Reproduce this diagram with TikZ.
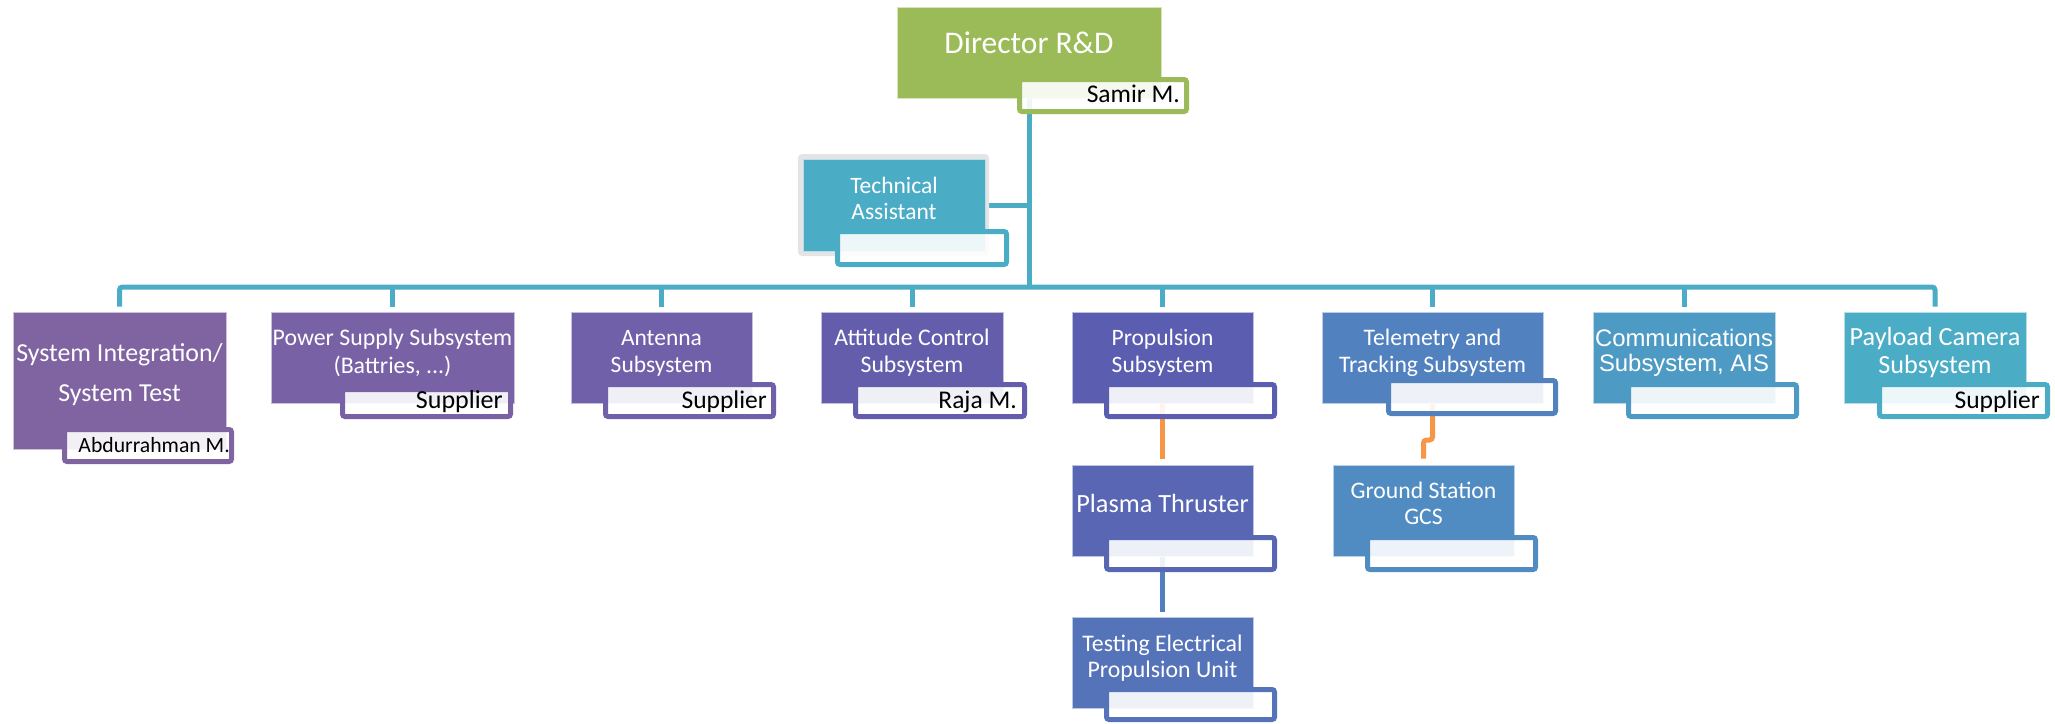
\documentclass[tikz,border=0pt]{standalone}
\usepackage{fontspec}
\setmainfont{Carlito}
\newfontfamily\arialfont{Liberation Sans}
\usetikzlibrary{fit,backgrounds}

\definecolor{cDir}{HTML}{9BBB59}
\definecolor{cTA}{HTML}{4BACC6}
\definecolor{cTAglow}{HTML}{E4E4E4}
\definecolor{cSys}{HTML}{8064A2}
\definecolor{cPow}{HTML}{7961A6}
\definecolor{cAnt}{HTML}{6F60A9}
\definecolor{cAtt}{HTML}{645DAC}
\definecolor{cPro}{HTML}{5B5EB0}
\definecolor{cTel}{HTML}{5281BF}
\definecolor{cCom}{HTML}{4D9AC4}
\definecolor{cPay}{HTML}{4BACC6}
\definecolor{cPla}{HTML}{5866B3}
\definecolor{cGnd}{HTML}{508CC1}
\definecolor{cTst}{HTML}{5573B9}
\definecolor{cBus}{HTML}{4BACC6}
\definecolor{cOrg}{HTML}{F79646}
\definecolor{cSub}{HTML}{5280BF}

% font size helper
\newcommand\setfs[2]{\fontsize{#1}{#2}\selectfont}
% unit box given by its outer corners
\newcommand\orgunit[6]{\node[unit=#6, fit={(#2,#3) (#4,#5)}] (#1) {};}
% name tag given by its outer corners (outline of 5pt drawn inside)
\newcommand\orgtag[6]{\node[tag=#6, fit={({#2+2.5},{#3+2.5}) ({#4-2.5},{#5-2.5})}] (#1) {};}

\begin{document}
\begin{tikzpicture}[x=1pt, y=-1pt,
  unit/.style={fill=#1, draw=white!60!#1, line width=0.8pt, inner sep=0pt},
  tag/.style={fill=white, fill opacity=0.9, draw=#1, line width=5pt, rounded corners=2.5pt, inner sep=0pt},
  glow/.style={fill=#1, rounded corners=4pt, inner sep=0pt},
  link/.style={draw=#1, line width=5pt},
  utext/.style={text=white, align=center, inner sep=0pt, font=#1},
  ttext/.style={text=black, anchor=base east, inner sep=0pt, font=#1}]

\useasboundingbox (0,0) rectangle (2055,723);

% ---------- unit boxes ----------
\orgunit{dir}{897}{7}{1161}{98}{cDir}
\node[glow=cTAglow, fit={(798,154) (989,256)}] (taGlow) {};
\orgunit{ta}{803}{159}{985}{251}{cTA}

\orgunit{sysI}{13}{312}{226}{449}{cSys}
\orgunit{pow}{271}{312}{514}{403}{cPow}
\orgunit{ant}{571}{312}{752}{403}{cAnt}
\orgunit{att}{821}{312}{1003}{403}{cAtt}
\orgunit{prop}{1072}{312}{1253}{403}{cPro}
\orgunit{tel}{1322}{312}{1543}{403}{cTel}
\orgunit{com}{1593}{312}{1775}{403}{cCom}
\orgunit{pay}{1844}{312}{2026}{403}{cPay}

\orgunit{pla}{1072}{465}{1253}{556}{cPla}
\orgunit{gnd}{1333}{465}{1514}{556}{cGnd}
\orgunit{tst}{1072}{617}{1253}{708}{cTst}

% ---------- connectors (behind the boxes) ----------
\coordinate (busY) at (0,287);
\coordinate (jogY) at (0,440);
\begin{scope}[on background layer]
  \draw[link=cBus] (dir.south) -- (dir.south |- busY);
  \draw[link=cBus] (ta.east) -- (ta.east -| dir.south);
  \draw[link=cBus, rounded corners=3pt, shorten <=5pt, shorten >=5pt]
    (sysI.north) -- (sysI.north |- busY) -- (pay.north |- busY) -- (pay.north);
  \foreach \n in {pow,ant,att,prop,tel,com}
    \draw[link=cBus, shorten >=5pt] (\n.north |- busY) -- (\n.north);
  \draw[link=cOrg, shorten >=6pt] (pla.north |- prop.south) -- (pla.north);
  \draw[link=cOrg, shorten >=6pt, rounded corners=3pt]
    (tel.south) -- (tel.south |- jogY) -- (gnd.north |- jogY) -- (gnd.north);
  \draw[link=cSub, shorten >=5pt] (tst.north |- pla.south) -- (tst.north);
\end{scope}

% ---------- name tags ----------
\orgtag{dirTag}{1017}{77}{1189}{114}{cDir}
\orgtag{taTag}{835}{229}{1009}{267}{cTA}
\orgtag{sysTag}{62}{427}{234}{464}{cSys}
\orgtag{powTag}{340}{387}{513}{419}{cPow}
\orgtag{antTag}{603}{382}{776}{419}{cAnt}
\orgtag{attTag}{853}{382}{1027}{419}{cAtt}
\orgtag{proTag}{1104}{382}{1277}{419}{cPro}
\orgtag{telTag}{1386}{378}{1558}{416}{cTel}
\orgtag{comTag}{1626}{382}{1799}{419}{cCom}
\orgtag{payTag}{1877}{382}{2050}{419}{cPay}
\orgtag{plaTag}{1104}{535}{1277}{572}{cPla}
\orgtag{gndTag}{1365}{535}{1538}{572}{cGnd}
\orgtag{tstTag}{1104}{687}{1277}{722}{cTst}

% ---------- unit titles ----------
\node[utext=\setfs{31.5}{38}] (dirT) at (1029,43) {Director R\&D};
\node[utext=\setfs{23.5}{26}] (taT) at (894,198) {Technical\\Assistant};
\node[utext=\setfs{25.9}{40}] (sysT) at (119.5,375) {System Integration/\\System Test};
\node[utext=\setfs{23.8}{28}] (powT) at (392.5,353) {Power Supply Subsystem\\(Battries, ...)};
\node[utext=\setfs{23.5}{27}] (antT) at (661.5,353) {Antenna\\Subsystem};
\node[utext=\setfs{23.8}{27}] (attT) at (912,353) {Attitude Control\\Subsystem};
\node[utext=\setfs{23.5}{27}] (proT) at (1162.5,353) {Propulsion\\Subsystem};
\node[utext=\setfs{23.7}{27}] (telT) at (1432.5,353) {Telemetry and\\Tracking Subsystem};
\node[utext=\arialfont\setfs{23.9}{25}] (comT) at (1684,353) {Communications\\Subsystem, AIS};
\node[utext=\setfs{26.2}{28}] (payT) at (1935,353) {Payload Camera\\Subsystem};
\node[utext=\setfs{26.3}{30}] (plaT) at (1162.5,503) {Plasma Thruster};
\node[utext=\setfs{23.7}{26}] (gndT) at (1423.5,503) {Ground Station\\GCS};
\node[utext=\setfs{23.8}{26}] (tstT) at (1162.5,658.5) {Testing Electrical\\Propulsion Unit};

% ---------- names in the tags ----------
\node[ttext=\setfs{25.5}{30}] (dirName) at (1180,102) {Samir M.};
\node[ttext=\setfs{21.7}{26}] (sysName) at (230,452) {Abdurrahman M.};
\node[ttext=\setfs{26}{30}] (powName) at (503,408) {Supplier};
\node[ttext=\setfs{25.5}{30}] (antName) at (767,408) {Supplier};
\node[ttext=\setfs{25.5}{30}] (attName) at (1017,408) {Raja M.};
\node[ttext=\setfs{25.5}{30}] (payName) at (2040,408) {Supplier};

\end{tikzpicture}
\end{document}
